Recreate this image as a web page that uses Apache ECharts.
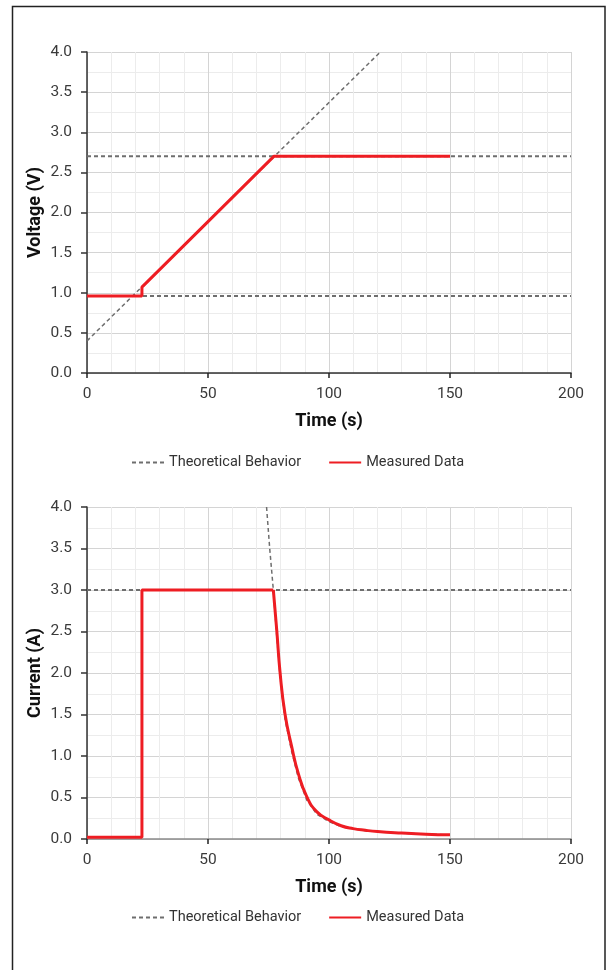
<!DOCTYPE html>
<html>
<head>
<meta charset="utf-8">
<script src="https://cdn.jsdelivr.net/npm/echarts@6/dist/echarts.min.js"></script>
<style>
html,body{margin:0;padding:0;background:#fff;}
#c{width:606px;height:970px;}
</style>
</head>
<body>
<div id="c"></div>
<script>
// ---- data ----
var xTicks = [0, 50, 100, 150, 200];
var yTicks = [0.0, 0.5, 1.0, 1.5, 2.0, 2.5, 3.0, 3.5, 4.0];

// Voltage chart
var vTheoLowT = [0, 200];
var vTheoLowV = [0.96, 0.96];
var vTheoHighT = [0, 200];
var vTheoHighV = [2.7, 2.7];
var vTheoRampT = [0, 121.2];
var vTheoRampV = [0.4, 4.0];
var vMeasT = [0, 22.7, 22.7, 77.2, 150];
var vMeasV = [0.96, 0.96, 1.07, 2.7, 2.7];

// Current chart
var iTheoFlatT = [0, 200];
var iTheoFlatV = [3.0, 3.0];
var iTheoDecayT = [74.2, 75.5, 77.0, 78.4, 79.8, 81.8, 84.6, 87.3, 90.8, 94.9, 100, 105, 115, 130, 150];
var iTheoDecayV = [4.0, 3.5, 3.0, 2.45, 1.95, 1.45, 1.05, 0.74, 0.47, 0.30, 0.21, 0.15, 0.10, 0.07, 0.05];
var iMeasStepT = [0, 22.7, 22.7, 77.0];
var iMeasStepV = [0.02, 0.02, 3.0, 3.0];
var iMeasDecayT = [77.0, 78.4, 79.8, 81.8, 84.6, 87.3, 90.8, 94.9, 100, 105, 110, 115, 120, 130, 140, 150];
var iMeasDecayV = [3.0, 2.52, 2.0, 1.51, 1.11, 0.79, 0.51, 0.33, 0.23, 0.16, 0.125, 0.105, 0.09, 0.072, 0.058, 0.05];

var legendNames = ['Theoretical Behavior', 'Measured Data'];

function pts(t, v) { return t.map(function (x, i) { return [x, v[i]]; }); }

var FONT = "Roboto, 'Liberation Sans', sans-serif";
var GRAY = '#6e6e6e';
var RED = '#ee1d23';

function xAxisCfg(gi, lineColor) {
  return {
    type: 'value', gridIndex: gi, min: xTicks[0], max: xTicks[xTicks.length - 1], interval: 50,
    name: 'Time (s)', nameLocation: 'middle', nameGap: 39, nameMoveOverlap: false,
    nameTextStyle: { fontFamily: FONT, fontWeight: 'bold', fontSize: 18, color: '#111' },
    axisLine: { show: true, lineStyle: { color: lineColor, width: 1.5 } },
    axisTick: { show: true, length: 5, lineStyle: { color: '#222', width: 1.5 } },
    axisLabel: { fontFamily: FONT, fontSize: 15.5, color: '#3a3a3a', margin: 13 },
    splitLine: { show: true, lineStyle: { color: '#d4d4d4', width: 1 } },
    minorTick: { show: false, splitNumber: 5 },
    minorSplitLine: { show: true, lineStyle: { color: '#ececec', width: 1 } }
  };
}
function yAxisCfg(gi, name) {
  return {
    type: 'value', gridIndex: gi, min: yTicks[0], max: yTicks[yTicks.length - 1], interval: 0.5,
    name: name, nameLocation: 'middle', nameGap: 43, nameMoveOverlap: false,
    nameTextStyle: { fontFamily: FONT, fontWeight: 'bold', fontSize: 18, color: '#111' },
    axisLine: { show: true, lineStyle: { color: '#333', width: 1.5 } },
    axisTick: { show: true, length: 6, lineStyle: { color: '#333', width: 1.5 } },
    axisLabel: { fontFamily: FONT, fontSize: 15.5, color: '#3a3a3a', margin: 15,
      formatter: function (v) { return v.toFixed(1); } },
    splitLine: { show: true, lineStyle: { color: '#d4d4d4', width: 1 } },
    minorTick: { show: false, splitNumber: 2 },
    minorSplitLine: { show: true, lineStyle: { color: '#ececec', width: 1 } }
  };
}
function theo(name, gi, data, w) {
  return { name: name, type: 'line', xAxisIndex: gi, yAxisIndex: gi, data: data,
    symbol: 'none', silent: true, z: 2,
    lineStyle: { color: GRAY, width: w, type: [4, 3] }, itemStyle: { color: GRAY } };
}
function meas(name, gi, data, smooth) {
  return { name: name, type: 'line', xAxisIndex: gi, yAxisIndex: gi, data: data,
    symbol: 'none', silent: true, z: 5, smooth: smooth ? 0.5 : false,
    lineStyle: { color: RED, width: 3 }, itemStyle: { color: RED } };
}

var chart = echarts.init(document.getElementById('c'), null, { renderer: 'canvas' });
var legendBase = {
  data: legendNames, itemWidth: 32, itemHeight: 12, itemGap: 27,
  itemStyle: { opacity: 0 },
  textStyle: { fontFamily: FONT, fontSize: 14.5, color: '#333' }
};
chart.setOption({
  animation: false,
  backgroundColor: '#fff',
  grid: [
    { left: 87, top: 52, width: 484, height: 321 },
    { left: 87, top: 507, width: 484, height: 332 }
  ],
  xAxis: [xAxisCfg(0, '#333'), xAxisCfg(1, '#8a8a8a')],
  yAxis: [yAxisCfg(0, 'Voltage (V)'), yAxisCfg(1, 'Current (A)')],
  legend: [
    Object.assign({}, legendBase, { left: 126, top: 450 }),
    Object.assign({}, legendBase, { left: 126, top: 905 })
  ],
  graphic: [{
    type: 'rect', silent: true, z: 100,
    shape: { x: 12.5, y: 6.5, width: 592.5, height: 1000 },
    style: { fill: 'none', stroke: '#222', lineWidth: 1.5 }
  }],
  series: [
    theo(legendNames[0], 0, pts(vTheoLowT, vTheoLowV), 2),
    theo(legendNames[0], 0, pts(vTheoHighT, vTheoHighV), 2),
    theo(legendNames[0], 0, pts(vTheoRampT, vTheoRampV), 1.5),
    meas(legendNames[1], 0, pts(vMeasT, vMeasV), false),
    theo(legendNames[0], 1, pts(iTheoFlatT, iTheoFlatV), 2),
    theo(legendNames[0], 1, pts(iTheoDecayT, iTheoDecayV), 1.5),
    meas(legendNames[1], 1, pts(iMeasStepT, iMeasStepV), false),
    meas(legendNames[1], 1, pts(iMeasDecayT, iMeasDecayV), true)
  ]
});
</script>
</body>
</html>
